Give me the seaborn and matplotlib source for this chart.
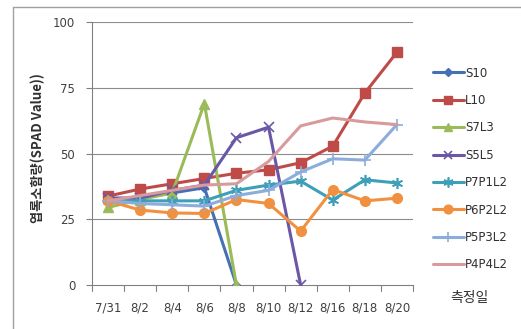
import numpy as np
import pandas as pd
import matplotlib
matplotlib.use("Agg")
import matplotlib.pyplot as plt
from matplotlib.lines import Line2D
import seaborn as sns

# measurement dates (categorical axis)
dates = ["7/31", "8/2", "8/4", "8/6", "8/8", "8/10", "8/12", "8/16", "8/18", "8/20"]

# SPAD readings per treatment (None = no measurement)
s10 = [33, 33, 35, 37, 0, None, None, None, None, None]
l10 = [33.8, 36.5, 38.5, 40.5, 42.5, 43.8, 46.5, 52.8, 73, 88.5]
s7l3 = [29.5, 32.5, 35, 69, 0, None, None, None, None, None]
s5l5 = [33, 33, 36, 38, 56, 60, 0, None, None, None]
p7p1l2 = [32, 32, 32, 32, 36, 38, 39.5, 32.3, 40, 38.8]
p6p2l2 = [32, 28.5, 27.4, 27.2, 32.5, 31, 20.5, 36.3, 32, 33]
p5p3l2 = [32, 31, 30.5, 30, 34, 36, 43, 48, 47.5, 61]
p4p4l2 = [32, 34, 36, 38, 38.5, 47, 60.5, 63.5, 62, 61]

series = {
    "S10": s10, "L10": l10, "S7L3": s7l3, "S5L5": s5l5,
    "P7P1L2": p7p1l2, "P6P2L2": p6p2l2, "P5P3L2": p5p3l2, "P4P4L2": p4p4l2,
}

styles = {
    "S10": dict(color="#4670B4", marker="D", ms=4, mew=1),
    "L10": dict(color="#BE4B48", marker="s", ms=7, mew=1),
    "S7L3": dict(color="#9BBB59", marker="^", ms=7, mew=1),
    "S5L5": dict(color="#6A58A6", marker="x", ms=7, mew=1.2),
    "P7P1L2": dict(color="#3E9FB8", marker=(6, 2, 0), ms=8, mew=1.2),
    "P6P2L2": dict(color="#F1913F", marker="o", ms=7, mew=1),
    "P5P3L2": dict(color="#8CADDC", marker="+", ms=8, mew=1.2),
    "P4P4L2": dict(color="#D79B9C", marker=None, ms=0, mew=0),
}

rows = []
for name, vals in series.items():
    for i, v in enumerate(vals):
        if v is not None:
            rows.append({"series": name, "pos": i, "value": v})
df = pd.DataFrame(rows)

sns.set_style("white")
plt.rcParams["font.family"] = ["DejaVu Sans"]

fig = plt.figure(figsize=(5.21, 3.29), dpi=100)
ax = fig.add_axes([0.1766, 0.1337, 0.7927 - 0.1766, 0.9331 - 0.1337])

for name in series:
    st = styles[name]
    sub = df[df["series"] == name]
    sns.lineplot(data=sub, x="pos", y="value", ax=ax, color=st["color"],
                 linewidth=2.2, marker=st["marker"], markersize=st["ms"],
                 markeredgewidth=st["mew"], markeredgecolor=st["color"],
                 legend=False, zorder=3)

n = len(dates)
ax.set_xlim(-0.5, n - 0.5)
ax.set_ylim(0, 100)
ax.set_yticks([0, 25, 50, 75, 100])
ax.set_xticks(range(n))
ax.set_xticklabels(dates)
ax.tick_params(axis="x", length=0, pad=12, labelsize=8.5, labelcolor="#404040")
ax.tick_params(axis="y", length=4, width=0.8, color="#808080", direction="out",
               left=True, pad=8, labelsize=8.5, labelcolor="#404040")
# category boundary tick marks below the axis
for b in np.arange(-0.5, n, 1.0):
    ax.plot([b, b], [0, -2.2], color="#808080", lw=0.8, clip_on=False, zorder=2)

for y in [25, 50, 75, 100]:
    ax.axhline(y, color="#8C8C8C", lw=0.8, zorder=1)
ax.set_xlabel("")
ax.set_ylabel("")
for s in ["top", "right"]:
    ax.spines[s].set_visible(False)
ax.spines["left"].set_color("#808080")
ax.spines["bottom"].set_color("#808080")
ax.spines["left"].set_linewidth(0.8)
ax.spines["bottom"].set_linewidth(0.8)

fig.text(0.073, 0.55, "엽록소함량(SPAD Value))", rotation=90, ha="center", va="center",
         fontsize=9.5, fontweight="bold", color="#303030",
         family=["Noto Sans CJK KR", "DejaVu Sans"])
fig.text(0.902, 0.095, "측정일", ha="center", va="center", fontsize=10,
         color="#303030", family=["Noto Sans CJK KR", "DejaVu Sans"])

handles = []
for name in series:
    st = styles[name]
    handles.append(Line2D([], [], color=st["color"], lw=2.2, marker=st["marker"],
                          markersize=st["ms"] * 0.9, markeredgewidth=st["mew"],
                          markeredgecolor=st["color"]))
fig.legend(handles, list(series.keys()), loc="upper left",
           bbox_to_anchor=(0.822, 0.812), frameon=False, fontsize=8.5,
           handlelength=2.6, handletextpad=0.1, labelspacing=1.22,
           labelcolor="#303030", borderaxespad=0)

# outer chart frame
fig.add_artist(Line2D([13 / 521, 13 / 521], [0, 1 - 7 / 329], color="#A0A0A0", lw=1))
fig.add_artist(Line2D([13 / 521, 1], [1 - 7 / 329, 1 - 7 / 329], color="#A0A0A0", lw=1))

fig.savefig("out.png", dpi=100)
